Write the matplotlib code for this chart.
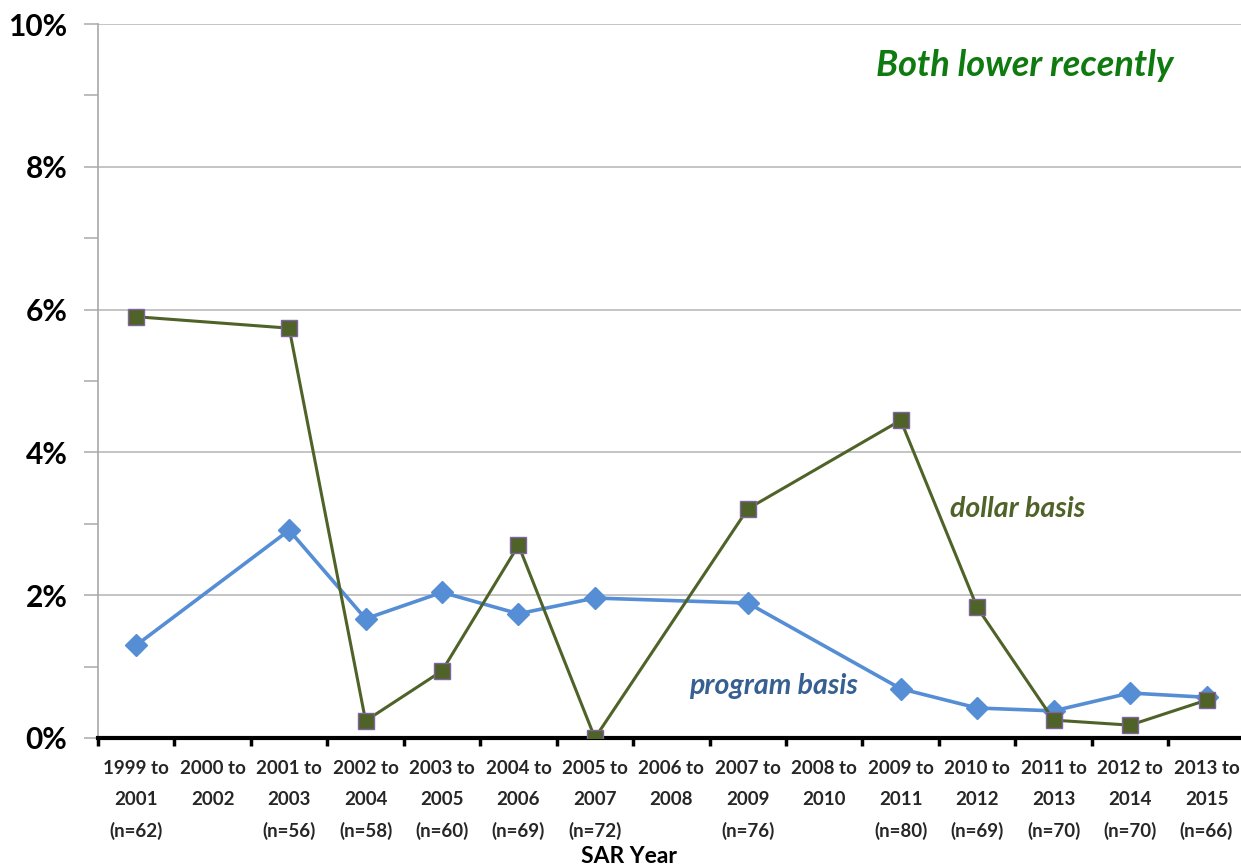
import numpy as np
import matplotlib
matplotlib.use("Agg")
import matplotlib.pyplot as plt
from matplotlib.ticker import FixedLocator, FuncFormatter

plt.rcParams['font.family'] = ['Lato', 'DejaVu Sans']

categories = ["1999 to\n2001\n(n=62)", "2000 to\n2002\n", "2001 to\n2003\n(n=56)",
              "2002 to\n2004\n(n=58)", "2003 to\n2005\n(n=60)", "2004 to\n2006\n(n=69)",
              "2005 to\n2007\n(n=72)", "2006 to\n2008\n", "2007 to\n2009\n(n=76)",
              "2008 to\n2010\n", "2009 to\n2011\n(n=80)", "2010 to\n2012\n(n=69)",
              "2011 to\n2013\n(n=70)", "2012 to\n2014\n(n=70)", "2013 to\n2015\n(n=66)"]
nan = np.nan
dollar_basis = [5.90, nan, 5.74, 0.24, 0.94, 2.70, 0.0, nan, 3.21, nan, 4.45, 1.83, 0.25, 0.18, 0.53]
program_basis = [1.30, nan, 2.91, 1.67, 2.04, 1.74, 1.96, nan, 1.89, nan, 0.69, 0.42, 0.38, 0.63, 0.57]
y_ticks = [0, 2, 4, 6, 8, 10]

fig = plt.figure(figsize=(12.41, 8.67), dpi=100)
ax = fig.add_axes([0.079, 0.1488, 0.924, 0.8235])

x = np.arange(len(categories))
d = np.array(dollar_basis)
p = np.array(program_basis)
md = ~np.isnan(d)
mp = ~np.isnan(p)

ax.plot(x[mp], p[mp], color='#558ed5', lw=2.6, marker='D', ms=11,
        markerfacecolor='#558ed5', markeredgecolor='#558ed5', zorder=3)
ax.plot(x[md], d[md], color='#4f6228', lw=2.2, marker='s', ms=11.5,
        markerfacecolor='#4f6228', markeredgecolor='#8064a2', markeredgewidth=1.0, zorder=4)

ax.set_xlim(-0.5, len(categories) - 0.5)
ax.set_ylim(0, 10)

ax.yaxis.set_major_locator(FixedLocator(y_ticks))
ax.yaxis.set_minor_locator(FixedLocator([1, 3, 5, 7, 9]))
ax.yaxis.set_major_formatter(FuncFormatter(lambda v, _: f"{int(v)}%"))
ax.grid(axis='y', which='major', color='#c4c4c4', lw=1.4, zorder=0)
ax.tick_params(axis='y', which='both', direction='out', length=10, width=1.2,
               color='#b0b0b0', labelsize=21.5, pad=12)
for lab in ax.get_yticklabels():
    lab.set_fontweight('bold')

ax.set_xticks(x)
ax.set_xticklabels(categories, fontsize=13.5, fontweight='bold', color='#262626', linespacing=1.97)
ax.set_xticks(np.arange(len(categories) + 1) - 0.5, minor=True)
ax.tick_params(axis='x', which='major', length=0, pad=16)
ax.tick_params(axis='x', which='minor', direction='out', length=6, width=2.5, color='black')

for s in ['top', 'right']:
    ax.spines[s].set_visible(False)
ax.spines['left'].set_color('#a8a8a8')
ax.spines['left'].set_linewidth(1.2)
ax.spines['bottom'].set_color('black')
ax.spines['bottom'].set_linewidth(3)
ax.set_axisbelow(True)

ax.set_xlabel("SAR Year", fontsize=16.5, fontweight='bold', va='center')
ax.xaxis.set_label_coords(0.463, -0.1655)

ax.text(1025/1241, 1 - 65/867, "Both lower recently", transform=fig.transFigure,
        fontsize=26, fontweight='bold', style='italic', color='#0f7a0f',
        ha='center', va='center')
ax.text(1018/1241, 1 - 509/867, "dollar basis", transform=fig.transFigure,
        fontsize=20.5, fontweight='bold', style='italic', color='#4f6228',
        ha='center', va='center')
ax.text(773/1241, 1 - 686/867, "program basis", transform=fig.transFigure,
        fontsize=20.5, fontweight='bold', style='italic', color='#376092',
        ha='center', va='center')

fig.savefig("out.png", dpi=100)
